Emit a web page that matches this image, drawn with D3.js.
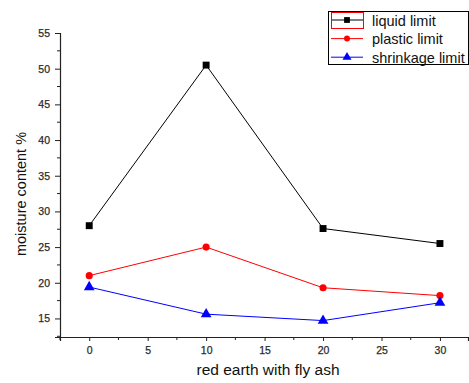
<!DOCTYPE html>
<html>
<head>
<meta charset="utf-8">
<script src="https://cdn.jsdelivr.net/npm/d3@7"></script>
<style>
  body { margin: 0; background: #fff; }
  svg { display: block; font-family: "Liberation Sans", Arial, sans-serif; }
</style>
</head>
<body>
<svg id="chart" width="469" height="383"></svg>
<script>
// red earth with fly ash (%)
const flyAsh = [0, 10, 20, 30];
const liquidLimit = [28.0, 50.5, 27.6, 25.5];
const plasticLimit = [21.0, 25.0, 19.3, 18.2];
const shrinkageLimit = [19.4, 15.6, 14.7, 17.2];
const seriesNames = ['liquid limit', 'plastic limit', 'shrinkage limit'];
const xTicks = [0, 5, 10, 15, 20, 25, 30];
const yTicks = [15, 20, 25, 30, 35, 40, 45, 50, 55];

const svg = d3.select('#chart');
const plotLeft = 60, plotRight = 468, plotTop = 33, plotBottom = 337;

const x = d3.scaleLinear().domain([-2.5, 32.4]).range([plotLeft, plotRight]);
const y = d3.scaleLinear().domain([12.4, 55]).range([plotBottom, plotTop]);

// axes
const xAxis = d3.axisBottom(x).tickValues(xTicks).tickSize(4).tickPadding(6).tickFormat(d3.format('d'));
const yAxis = d3.axisLeft(y).tickValues(yTicks).tickSize(5).tickPadding(5).tickFormat(d3.format('d'));

const gx = svg.append('g').attr('transform', `translate(0,${plotBottom})`).call(xAxis);
const gy = svg.append('g').attr('transform', `translate(${plotLeft},0)`).call(yAxis);

// minor ticks
const xMinor = d3.range(-2.5, 32.5, 5);
svg.append('g').selectAll('line').data(xMinor).enter().append('line')
  .attr('x1', d => x(d)).attr('x2', d => x(d))
  .attr('y1', plotBottom).attr('y2', plotBottom + 3)
  .attr('stroke', '#222');
const yMinor = d3.range(17.5, 55, 5).concat([12.5]);
svg.append('g').selectAll('line').data(yMinor).enter().append('line')
  .attr('x1', plotLeft).attr('x2', plotLeft - 3)
  .attr('y1', d => y(d)).attr('y2', d => y(d))
  .attr('stroke', '#222');

[gx, gy].forEach(g => {
  g.select('.domain').attr('stroke', '#222').attr('stroke-width', 1.2);
  g.selectAll('.tick line').attr('stroke', '#222');
  g.selectAll('text').style('font-size', '10.5px').attr('fill', '#2a2a2a')
    .attr('stroke', '#2a2a2a').attr('stroke-width', 0.25)
    .style('font-family', '"Liberation Sans", Arial, sans-serif');
});

// axis titles
svg.append('text')
  .attr('x', 268).attr('y', 375)
  .attr('text-anchor', 'middle')
  .style('font-size', '15.5px').attr('fill', '#111')
  .text('red earth with fly ash');
svg.append('text')
  .attr('transform', `translate(26,194) rotate(-90)`)
  .attr('text-anchor', 'middle')
  .style('font-size', '14.5px').attr('fill', '#111')
  .text('moisture content %');

const series = [
  {name: seriesNames[0], values: liquidLimit, color: '#000', symbol: d3.symbolSquare, size: 48},
  {name: seriesNames[1], values: plasticLimit, color: '#ff0000', symbol: d3.symbolCircle, size: 40},
  {name: seriesNames[2], values: shrinkageLimit, color: '#0000ff', symbol: d3.symbolTriangle, size: 50}
];

const line = d3.line().x(d => x(d[0])).y(d => y(d[1]));

series.forEach(s => {
  const pts = flyAsh.map((v, i) => [v, s.values[i]]);
  svg.append('path')
    .attr('d', line(pts))
    .attr('fill', 'none')
    .attr('stroke', s.color)
    .attr('stroke-width', 1);
  svg.append('g').selectAll('path').data(pts).enter().append('path')
    .attr('d', d3.symbol().type(s.symbol).size(s.size))
    .attr('transform', d => `translate(${x(d[0])},${y(d[1])})`)
    .attr('fill', s.color);
});

// legend
const legend = svg.append('g');
legend.append('rect')
  .attr('x', 328.5).attr('y', 11.5).attr('width', 140).attr('height', 53)
  .attr('fill', '#fff').attr('stroke', '#000').attr('stroke-width', 1);
series.forEach((s, i) => {
  const ly = 20 + i * 18.6;
  legend.append('line')
    .attr('x1', 331).attr('x2', 363).attr('y1', ly).attr('y2', ly)
    .attr('stroke', s.color).attr('stroke-width', 1);
  legend.append('path')
    .attr('d', d3.symbol().type(s.symbol).size(s.size * 0.7))
    .attr('transform', `translate(347,${ly})`)
    .attr('fill', s.color);
  legend.append('text')
    .attr('x', 372).attr('y', ly + 5.5)
    .style('font-size', '14.5px').attr('fill', '#111')
    .text(s.name);
});
// selection frame around first legend symbol
legend.append('rect')
  .attr('x', 331.5).attr('y', 12.5).attr('width', 32).attr('height', 16)
  .attr('fill', 'none').attr('stroke', '#ff0000').attr('stroke-width', 1);
</script>
</body>
</html>
